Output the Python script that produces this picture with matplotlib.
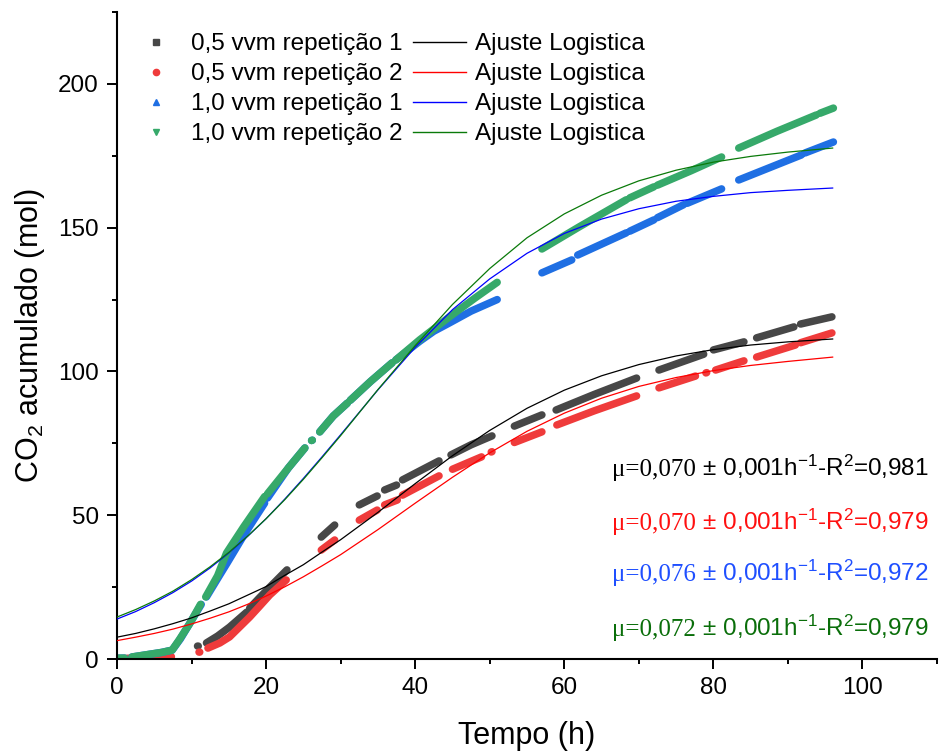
import numpy as np
import matplotlib
matplotlib.use("Agg")
import matplotlib.pyplot as plt
from matplotlib.lines import Line2D
from matplotlib.ticker import MultipleLocator

plt.rcParams['font.family'] = ['Liberation Sans', 'DejaVu Sans']

nan = np.nan

# measured points (nan = gap between recorded stretches)
t_05_r1 = [0.5, 7.2, nan, 10.8, 10.9, nan, 12.0, 13.5, 15.1, 17.4, nan, 17.8, 19.0, 20.5, 22.8, nan,
           27.4, 29.2, nan, 32.5, 34.9, nan, 35.9, 37.5, nan, 38.3, 43.2, nan, 44.8, 47.5, 50.3, nan,
           53.3, 57.0, nan, 58.9, 64.0, 69.7, nan, 72.7, 78.7, nan, 80.0, 84.1, nan, 85.8, 90.8, nan,
           91.7, 95.9]
co2_05_r1 = [0.1, 0.6, nan, 4.5, 4.5, nan, 5.6, 8.0, 11.1, 16.3, nan, 17.7, 21.0, 25.0, 31.0, nan,
             42.4, 46.6, nan, 53.6, 56.7, nan, 58.8, 60.5, nan, 62.3, 68.9, nan, 71.0, 74.5, 77.6, nan,
             81.0, 84.9, nan, 86.6, 92.0, 97.7, nan, 100.5, 106.0, nan, 107.5, 110.3, nan, 111.7, 115.5, nan,
             116.5, 119.0]

t_05_r2 = [0.5, 7.3, nan, 11.0, 11.1, nan, 12.2, 13.8, 15.1, 17.8, 19.0, 20.5, 22.7, nan,
           27.4, 29.2, nan, 32.5, 34.9, nan, 35.9, 37.6, nan, 38.3, 43.2, nan, 45.0, 48.9, nan,
           50.2, 50.3, nan, 53.3, 57.0, nan, 59.0, 64.0, 69.7, nan, 72.7, 77.6, nan, 79.0, 79.1, nan,
           80.3, 84.1, nan, 85.8, 91.0, nan, 91.7, 95.9]
co2_05_r2 = [0.1, 0.8, nan, 2.4, 2.4, nan, 3.8, 5.6, 7.7, 14.6, 18.0, 22.3, 27.5, nan,
             37.9, 41.4, nan, 48.3, 51.8, nan, 53.6, 55.3, nan, 57.0, 63.7, nan, 66.0, 70.3, nan,
             72.0, 72.1, nan, 75.3, 79.0, nan, 81.4, 86.3, 91.5, nan, 94.3, 98.4, nan, 99.5, 99.6, nan,
             100.5, 103.7, nan, 105.0, 109.2, nan, 110.0, 113.4]

t_10_r1 = [0.0, 1.0, nan, 2.0, 4.0, 6.0, 7.4, 8.5, 9.9, 11.3, nan, 12.0, 13.5, 14.8, 17.0, 19.8, nan,
           20.2, 23.0, 25.2, nan, 26.1, 26.2, nan, 27.2, 29.0, 30.9, nan, 31.3, 34.0, 36.9, nan,
           37.4, 40.6, 42.5, 44.6, 47.5, 51.0, nan,
           57.0, 61.0, nan, 61.8, 68.3, nan, 68.8, 72.0, nan, 72.5, 76.0, nan, 76.5, 81.1, nan,
           83.4, 91.8, nan, 92.3, 96.1]
co2_10_r1 = [0.3, 0.3, nan, 0.7, 1.5, 2.3, 3.1, 7.0, 13.0, 19.0, nan, 21.6, 28.0, 33.5, 43.0, 54.2, nan,
             56.0, 66.5, 73.4, nan, 76.0, 76.1, nan, 79.0, 84.5, 89.0, nan, 90.0, 96.5, 103.0, nan,
             104.0, 110.5, 114.0, 116.9, 121.0, 125.0, nan,
             134.3, 138.8, nan, 140.5, 148.2, nan, 148.8, 152.7, nan, 153.5, 158.0, nan, 158.5, 163.5, nan,
             166.6, 175.3, nan, 176.0, 179.8]

t_10_r2 = [0.0, 1.0, nan, 2.0, 4.0, 6.0, 7.4, 8.3, 9.8, 11.2, nan, 11.9, 13.5, 14.7, 17.0, 19.8, nan,
           20.2, 23.0, 25.2, nan, 26.1, 26.2, nan, 27.2, 29.0, 30.9, nan, 31.3, 34.0, 36.9, nan,
           37.4, 40.6, 44.6, 48.0, 51.0, nan,
           57.0, 62.0, 68.3, nan, 68.8, 72.0, nan, 72.5, 77.0, 81.1, nan, 83.4, 88.5, 93.8, nan,
           94.3, 96.1]
co2_10_r2 = [0.3, 0.3, nan, 0.7, 1.5, 2.3, 3.1, 6.5, 12.5, 19.0, nan, 21.6, 29.0, 36.9, 46.0, 56.5, nan,
             57.5, 66.5, 73.4, nan, 76.0, 76.1, nan, 79.0, 84.5, 89.0, nan, 90.0, 96.5, 103.0, nan,
             104.0, 111.0, 119.0, 125.5, 131.0, nan,
             142.6, 150.3, 159.7, nan, 160.4, 164.2, nan, 164.8, 169.8, 174.6, nan, 177.7, 183.5, 189.2, nan,
             189.8, 191.6]

# logistic fit curves
t_fit = [0, 2.5, 5, 7.5, 10, 12.5, 15, 17.5, 20, 22.5, 25, 27.5, 30, 35, 40, 45, 50, 55, 60, 65,
         70, 75, 80, 85, 90, 96]
fit_05_r1 = [7.6, 8.9, 10.5, 12.3, 14.3, 16.7, 19.2, 22.2, 25.2, 29.1, 32.8, 37.2, 41.5, 51.0,
             61.0, 70.7, 79.5, 87.2, 93.5, 98.5, 102.4, 105.4, 107.6, 109.2, 110.3, 111.3]
fit_05_r2 = [6.4, 7.6, 8.9, 10.4, 12.2, 14.2, 16.4, 19.0, 21.9, 25.1, 28.6, 32.4, 36.3, 45.0,
             54.2, 63.2, 71.7, 79.2, 85.5, 90.7, 94.8, 97.9, 100.3, 102.1, 103.5, 105.0]
fit_10_r1 = [13.9, 16.5, 19.6, 23.1, 27.1, 31.7, 36.9, 42.6, 48.8, 55.6, 62.8, 70.3, 78.0, 93.6,
             108.4, 121.5, 132.2, 141.1, 148.0, 153.0, 156.6, 159.2, 160.9, 162.2, 163.0, 163.8]
fit_10_r2 = [14.6, 17.2, 20.2, 23.6, 27.6, 32.1, 37.1, 42.7, 48.8, 55.4, 62.5, 70.0, 77.7, 93.7,
             109.0, 123.3, 135.8, 146.5, 154.8, 161.3, 166.3, 170.0, 172.8, 174.8, 176.3, 177.7]

labels = ['0,5 vvm repetição 1', '0,5 vvm repetição 2', '1,0 vvm repetição 1', '1,0 vvm repetição 2']
mu_vals = ['0,070', '0,070', '0,076', '0,072']
r2_vals = ['0,981', '0,979', '0,972', '0,979']

data_colors = ['#474747', '#ef3b3b', '#1f6fe3', '#36a96a']
fit_colors = ['#000000', '#ff0000', '#0000ff', '#0a7a0a']
text_colors = ['#000000', '#ff1010', '#1f4fff', '#0a6e0a']
markers = ['s', 'o', '^', 'v']

fig = plt.figure(figsize=(9.39, 7.53), dpi=100)
ax = fig.add_axes([0.1246, 0.1248, 0.8733, 0.8592])

series = [(t_05_r1, co2_05_r1), (t_05_r2, co2_05_r2), (t_10_r1, co2_10_r1), (t_10_r2, co2_10_r2)]
for (t, c), col in zip(series, data_colors):
    ax.plot(t, c, color=col, lw=5.4, solid_capstyle='round', zorder=2)

for f, col in zip([fit_05_r1, fit_05_r2, fit_10_r1, fit_10_r2], fit_colors):
    ax.plot(t_fit, f, color=col, lw=0.9, zorder=3)

ax.set_xlim(0, 110)
ax.set_ylim(0, 225)
ax.xaxis.set_major_locator(MultipleLocator(20))
ax.xaxis.set_minor_locator(MultipleLocator(10))
ax.yaxis.set_major_locator(MultipleLocator(50))
ax.yaxis.set_minor_locator(MultipleLocator(25))
for s in ['top', 'right']:
    ax.spines[s].set_visible(False)
for s in ['left', 'bottom']:
    ax.spines[s].set_linewidth(1.5)
ax.tick_params(which='major', length=7, width=1.4, labelsize=17.5, pad=6)
ax.tick_params(which='minor', length=3.8, width=1.4)
ax.set_xlabel('Tempo (h)', fontsize=22, labelpad=16)
ax.set_ylabel(r'CO$\mathregular{_2}$ acumulado (mol)', fontsize=22, labelpad=8)

handles = [Line2D([], [], ls='none', marker=m, ms=4.5, color=c) for m, c in zip(markers, data_colors)]
handles += [Line2D([], [], color=c, lw=1) for c in fit_colors]
leg_labels = labels + ['Ajuste Logistica'] * 4
ax.legend(handles, leg_labels, ncol=2, loc='upper left', bbox_to_anchor=(0.0, 0.986),
          frameon=False, fontsize=17.5, handlelength=2.2, handletextpad=0.35,
          columnspacing=0.42, labelspacing=0.33, borderaxespad=0.1)

# growth-rate annotations
ys = [63.7, 44.9, 27.1, 8.0]
fig.canvas.draw()
for y, mu, r2, col in zip(ys, mu_vals, r2_vals, text_colors):
    t1 = ax.text(66.4, y, 'μ=' + mu, family=['Liberation Serif', 'DejaVu Serif'],
                 fontsize=18, color=col, va='baseline')
    fig.canvas.draw()
    bb = t1.get_window_extent()
    x2 = ax.transData.inverted().transform((bb.x1, 0))[0]
    ax.text(x2, y, r' ± 0,001h$\mathregular{^{-1}}$-R$\mathregular{^2}$=' + r2,
            fontsize=17.5, color=col, va='baseline')

fig.savefig('out.png', dpi=100)
